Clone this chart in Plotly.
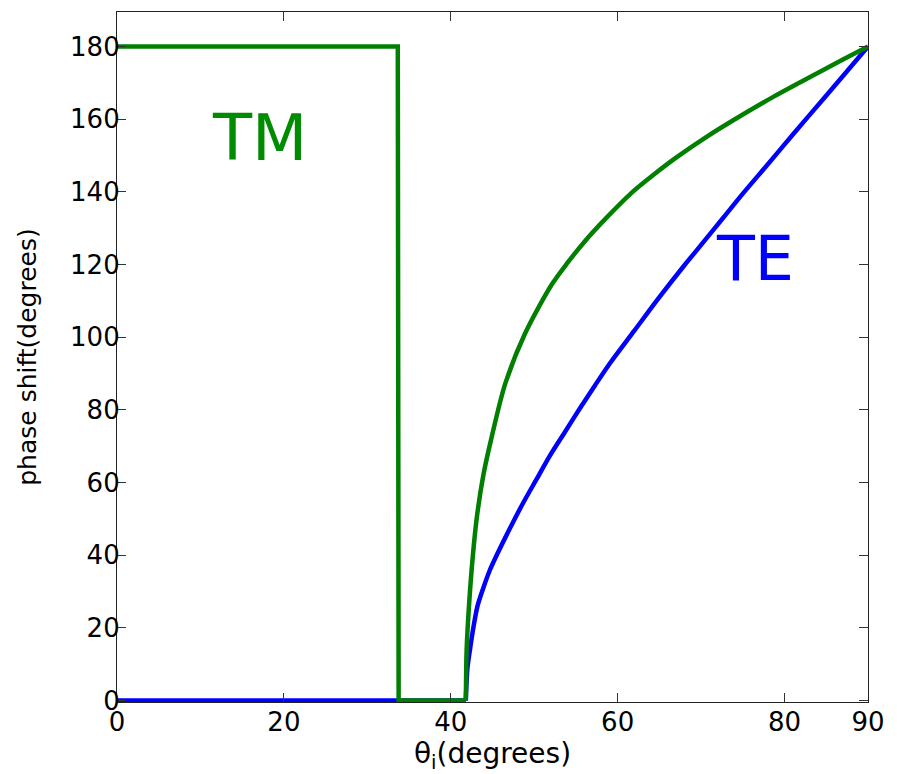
import plotly.graph_objects as go

# ---- data ----
te_theta = [0, 41.8, 42.0, 42.3, 42.7, 43.2, 43.9, 44.7, 45.5, 47.0, 48.7, 50.3,
            51.9, 53.7, 55.5, 57.3, 59.1, 62.0, 65.0, 68.0, 70.0, 72.7, 75.0,
            78.0, 81.0, 84.7, 87.0, 90.0]
te_phase = [0, 0, 9, 14, 20, 26, 31, 36, 40, 47, 54.5, 61,
            67.5, 74, 80.5, 86.8, 92.9, 101.8, 111, 119.8, 125.4, 133, 139.5,
            147.6, 155.8, 165.7, 171.9, 180]

tm_theta = [0, 33.65, 33.7, 33.75, 41.8, 41.85, 41.9, 42.1, 42.5, 43.1, 43.9,
            44.9, 46.5, 48.9, 52.1, 54.0, 56.1, 58.5, 61.7, 64.3, 67.0, 70.7,
            74.0, 78.7, 82.0, 84.7, 87.0, 90.0]
tm_phase = [180, 180, 90, 0, 0, 9, 14, 23, 36, 50, 62,
            72.5, 87, 101, 114.5, 120.5, 126.5, 132.5, 139.8, 144.7, 149.4, 155.2,
            159.9, 166.2, 170.3, 173.6, 176.4, 180]

x_ticks = [0, 20, 40, 60, 80, 90]
y_ticks = [0, 20, 40, 60, 80, 100, 120, 140, 160, 180]

labels = ["TM", "TE"]
label_x = [17.1, 76.5]
label_y = [154.7, 121.6]

GREEN = "#007f00"
BLUE = "#0000ff"
FONT = "DejaVu Sans"

# index where the smooth (total internal reflection) part starts
te_k = 1
tm_k = 4

fig = go.Figure()
fig.add_trace(go.Scatter(x=te_theta[:te_k + 1], y=te_phase[:te_k + 1], mode="lines",
                         name="TE", line=dict(color=BLUE, width=4.5)))
fig.add_trace(go.Scatter(x=te_theta[te_k:], y=te_phase[te_k:], mode="lines",
                         name="TE", line=dict(color=BLUE, width=4.5,
                                              shape="spline", smoothing=0.8)))
fig.add_trace(go.Scatter(x=tm_theta[:tm_k + 1], y=tm_phase[:tm_k + 1], mode="lines",
                         name="TM", line=dict(color=GREEN, width=4.5)))
fig.add_trace(go.Scatter(x=tm_theta[tm_k:], y=tm_phase[tm_k:], mode="lines",
                         name="TM", line=dict(color=GREEN, width=4.5,
                                              shape="spline", smoothing=0.8)))

fig.add_annotation(x=label_x[0], y=label_y[0], text=labels[0], showarrow=False,
                   font=dict(family=FONT, size=64, color="#008c00"))
fig.add_annotation(x=label_x[1], y=label_y[1], text=labels[1], showarrow=False,
                   font=dict(family=FONT, size=62, color="#0000ff"))

axis_common = dict(
    showline=True, linecolor="#222222", linewidth=1.2, mirror="ticks",
    ticks="inside", ticklen=9, tickcolor="#333333", tickwidth=1,
    showgrid=False, zeroline=False,
    tickfont=dict(family=FONT, size=26, color="black"),
)

# page body has an 8px margin, so the figure is 8px smaller than the window
fig.update_layout(
    width=889, height=766,
    margin=dict(l=109, r=29, t=4, b=72),
    paper_bgcolor="white", plot_bgcolor="white",
    showlegend=False,
    xaxis=dict(range=[0, 90], tickvals=x_ticks, ticklabelstandoff=-3,
               title=dict(text="θ<sub>i</sub>(degrees)", standoff=0,
                          font=dict(family=FONT, size=28, color="black")),
               **axis_common),
    yaxis=dict(range=[-0.4, 189.5], tickvals=y_ticks, ticklabelstandoff=-9,
               title=dict(text="phase shift(degrees)", standoff=26,
                          font=dict(family=FONT, size=25, color="black")),
               **axis_common),
)

fig.write_html("out.html")
